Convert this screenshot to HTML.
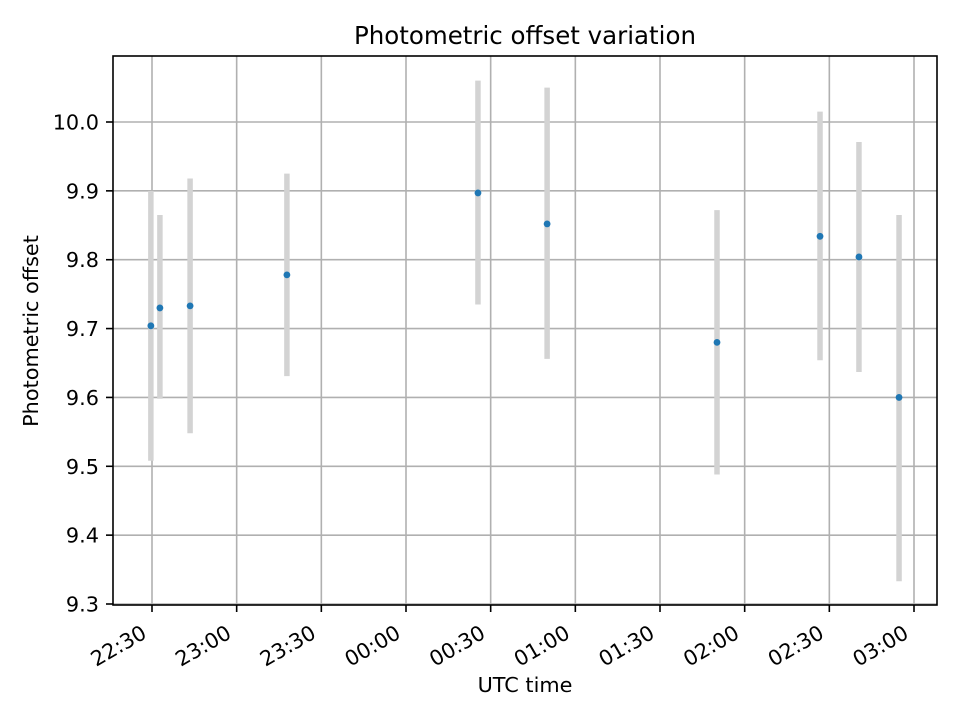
<!DOCTYPE html>
<html><head><meta charset="utf-8"><style>
body{margin:0;background:#fff}
svg text{font-family:"DejaVu Sans","Liberation Sans",sans-serif;fill:#000}
</style></head><body>
<svg id="chart" width="960" height="720" xmlns="http://www.w3.org/2000/svg">
<rect width="960" height="720" fill="#fff"/>
<text x="525" y="44" text-anchor="middle" font-size="24.5">Photometric offset variation</text>
<g id="grid"></g><g id="marks"></g><g id="axes"></g>
<text x="525" y="692" text-anchor="middle" font-size="20.8">UTC time</text>
<text transform="translate(38,331) rotate(-90)" text-anchor="middle" font-size="20.8">Photometric offset</text>
</svg>
<script>
// minutes after 22:30 UTC
const times = [-0.4, 2.8, 13.5, 47.8, 115.5, 140, 200.2, 236.7, 250.5, 264.7];
const offsets = [9.704, 9.730, 9.733, 9.778, 9.897, 9.852, 9.680, 9.834, 9.804, 9.600];
const errLow = [9.508, 9.598, 9.548, 9.631, 9.735, 9.656, 9.488, 9.654, 9.637, 9.333];
const errHigh = [9.900, 9.865, 9.918, 9.925, 10.060, 10.050, 9.872, 10.015, 9.971, 9.865];
const xTicks = [0, 30, 60, 90, 120, 150, 180, 210, 240, 270];
const xTickLabels = ["22:30","23:00","23:30","00:00","00:30","01:00","01:30","02:00","02:30","03:00"];
const yTicks = [9.3, 9.4, 9.5, 9.6, 9.7, 9.8, 9.9, 10.0];
const yTickLabels = ["9.3","9.4","9.5","9.6","9.7","9.8","9.9","10.0"];

const L=113,R=937,T=56,B=605;
const x = m => 152 + m*(914-152)/270;
const y = v => 604 - (v-9.3)*(604-122)/0.7;
const NS="http://www.w3.org/2000/svg";
function mk(tag, attrs, parent){const e=document.createElementNS(NS,tag);for(const k in attrs)e.setAttribute(k,attrs[k]);parent.appendChild(e);return e;}
const grid=document.getElementById('grid'), marks=document.getElementById('marks'), axes=document.getElementById('axes');

xTicks.forEach((t,i)=>{
  const g=mk('line',{x1:x(t),x2:x(t),y1:T,y2:B,stroke:'#b0b0b0','stroke-width':1.6},grid);
  
  
  const tk=mk('line',{x1:x(t),x2:x(t),y1:B,y2:B+7,stroke:'#000','stroke-width':1.6},axes);
  
  
  const tx=mk('text',{transform:`translate(${x(t)-4},637) rotate(-30)`,'text-anchor':'end','font-size':20.8},axes);
  tx.textContent=xTickLabels[i];
  
  
});
yTicks.forEach((t,i)=>{
  const g=mk('line',{x1:L,x2:R,y1:y(t),y2:y(t),stroke:'#b0b0b0','stroke-width':1.6},grid);
  
  
  const tk=mk('line',{x1:L-7,x2:L,y1:y(t),y2:y(t),stroke:'#000','stroke-width':1.6},axes);
  
  
  const tx=mk('text',{x:L-14,y:y(t)+7.5,'text-anchor':'end','font-size':20.8},axes);
  tx.textContent=yTickLabels[i];
  
  
});
times.forEach((t,i)=>{
  const e=mk('line',{x1:x(t),x2:x(t),y1:y(errLow[i]),y2:y(errHigh[i]),stroke:'#d3d3d3','stroke-width':5.5},marks);
  
  
});
times.forEach((t,i)=>{
  const c=mk('circle',{cx:x(t),cy:y(offsets[i]),r:3.4,fill:'#1f77b4'},marks);
  
  
});
const frame=mk('rect',{x:L,y:T,width:R-L,height:B-T,fill:'none',stroke:'#000','stroke-width':1.6},axes);


</script>
</body></html>
